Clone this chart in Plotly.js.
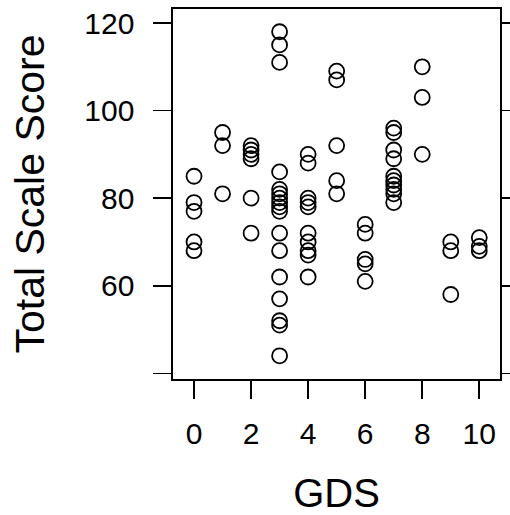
<!DOCTYPE html>
<html>
<head>
<meta charset="utf-8">
<script src="https://cdn.plot.ly/plotly-3.0.1.min.js"></script>
<style>html,body{margin:0;padding:0;background:#fff;}#chart{width:510px;height:515px;}</style>
</head>
<body>
<div id="chart"></div>
<script>
// GDS value for each group and the Total Scale Score values
const gdsLevels = [0, 1, 2, 3, 4, 5, 6, 7, 8, 9, 10];
const scores0 = [85, 79, 77, 70, 68];
const scores1 = [95, 92, 81];
const scores2 = [92, 91, 90, 89, 80, 72];
const scores3 = [118, 115, 111, 86, 82, 81, 80, 79, 78, 77, 72, 68, 62, 57, 52, 51, 44];
const scores4 = [90, 88, 80, 79, 78, 72, 70, 68, 67, 62];
const scores5 = [109, 107, 92, 84, 81];
const scores6 = [74, 72, 66, 65, 61];
const scores7 = [96, 95, 91, 89, 85, 84, 83, 82, 81, 79];
const scores8 = [110, 103, 90];
const scores9 = [70, 68, 58];
const scores10 = [71, 69, 68];
const xTickVals = [0, 2, 4, 6, 8, 10];
const yTickVals = [40, 60, 80, 100, 120];
const yTickText = ["", "60", "80", "100", "120"];

const groups = [scores0, scores1, scores2, scores3, scores4, scores5, scores6, scores7, scores8, scores9, scores10];
const xs = [], ys = [];
groups.forEach((g, i) => g.forEach(v => { xs.push(gdsLevels[i]); ys.push(v); }));

const font = "Liberation Sans, Arial, sans-serif";
const trace = {
  x: xs, y: ys, type: "scatter", mode: "markers",
  marker: {symbol: "circle-open", size: 15, color: "#000", line: {width: 1.8, color: "#000"}},
  hoverinfo: "skip"
};
const layout = {
  width: 510, height: 515,
  margin: {l: 173, r: 10, t: 9, b: 136, pad: 0},
  paper_bgcolor: "#fff", plot_bgcolor: "#fff",
  showlegend: false,
  font: {family: font, color: "#000"},
  xaxis: {
    range: [-0.737, 10.726], tickvals: xTickVals, ticks: "outside", ticklen: 18, tickwidth: 1.6,
    tickcolor: "#000", showline: true, linecolor: "#000", linewidth: 1.6, mirror: true,
    showgrid: false, zeroline: false, tickfont: {size: 30, family: font}, ticklabelstandoff: 9,
    title: {text: "GDS", font: {size: 40, family: font}, standoff: 40}, automargin: false
  },
  yaxis: {
    range: [38.7, 123.2], tickvals: yTickVals, ticktext: yTickText, ticks: "outside", ticklen: 18, tickwidth: 1.6,
    tickcolor: "#000", showline: true, linecolor: "#000", linewidth: 1.6, mirror: "ticks",
    showgrid: false, zeroline: false, tickfont: {size: 30, family: font}, ticklabelstandoff: 13,
    title: {text: "Total Scale Score", font: {size: 41, family: font}, standoff: 27}, automargin: false
  }
};
Plotly.newPlot("chart", [trace], layout, {staticPlot: true, displayModeBar: false});
</script>
</body>
</html>
